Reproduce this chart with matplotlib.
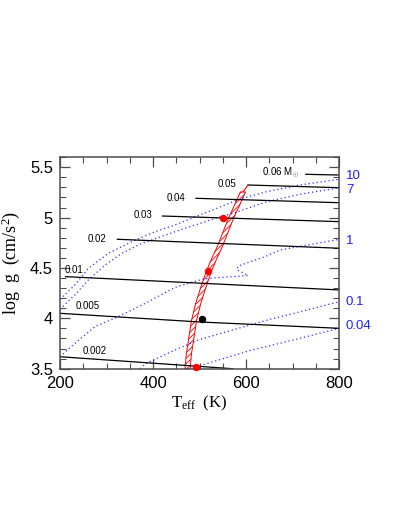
import numpy as np
import matplotlib
matplotlib.use("Agg")
import matplotlib.pyplot as plt
from matplotlib.patches import Polygon
from matplotlib.ticker import MultipleLocator, FixedLocator, FuncFormatter

# mass tracks (M_sun): Teff (K) and log g along each track
mass_names = ['0.002', '0.005', '0.01', '0.02', '0.03', '0.04', '0.05', '0.06 M$_\\odot$']
mass_teff = [[200, 571], [200, 500, 800], [212, 800], [323, 800],
             [420, 800], [492, 800], [604, 800], [728, 800]]
mass_logg = [[3.619, 3.500], [4.050, 3.964, 3.901], [4.414, 4.282], [4.785, 4.696],
             [5.016, 4.960], [5.192, 5.148], [5.324, 5.297], [5.430, 5.423]]

# isochrones (Gyr)
iso_names = ['10', '7', '1', '0.1', '0.04']
iso_teff = [
    [200, 232, 261, 304, 354, 404, 447, 544, 580, 644, 716, 800],
    [200, 232, 261, 297, 333, 376, 447, 544, 572, 644, 716, 800],
    [200, 232, 275, 325, 383, 447, 508, 533, 604, 580, 583, 640, 673, 800],
    [372, 383, 447, 501, 651, 800],
    [492, 608, 701, 800],
]
iso_logg = [
    [4.189, 4.331, 4.497, 4.646, 4.761, 4.860, 4.927, 5.106, 5.175, 5.258, 5.324, 5.381],
    [4.090, 4.232, 4.381, 4.530, 4.646, 4.745, 4.860, 5.009, 5.043, 5.158, 5.232, 5.297],
    [3.619, 3.752, 3.917, 4.016, 4.149, 4.308, 4.391, 4.402, 4.425, 4.483, 4.520, 4.612, 4.679, 4.785],
    [3.500, 3.547, 3.686, 3.792, 3.990, 4.165],
    [3.518, 3.680, 3.785, 3.901],
]

# hatched band (centre line) and its half width in Teff
band_teff = [474, 477, 482, 488, 497, 508, 520, 532, 544, 556, 567, 580, 593]
band_logg = [3.50, 3.65, 3.80, 3.98, 4.15, 4.31, 4.47, 4.60, 4.72, 4.86, 4.99, 5.12, 5.255]
band_dT = 5.5

# measured objects
obj_teff = [551, 519, 506, 492]
obj_logg = [4.994, 4.473, 3.994, 3.518]
obj_color = ['red', 'red', 'black', 'red']

# label placement
mass_label_xy = [(249, 3.679), (234, 4.12), (211, 4.479), (260, 4.792),
                 (359, 5.023), (430, 5.19), (539, 5.329), (634, 5.448)]
iso_label_y = [5.414, 5.275, 4.768, 4.162, 3.924]

plt.rcParams['mathtext.fontset'] = 'custom'
plt.rcParams['mathtext.rm'] = 'Liberation Serif'
plt.rcParams['mathtext.it'] = 'Liberation Serif:italic'
plt.rcParams['hatch.color'] = 'red'
plt.rcParams['hatch.linewidth'] = 0.6

fig = plt.figure(figsize=(3.97, 5.29), dpi=100)
ax = fig.add_axes([0.1511, 0.303, 0.7036, 0.4008])

for T, g in zip(iso_teff, iso_logg):
    ax.plot(T, g, color='#3030ff', lw=0.9, ls=(0, (1, 2.2)))

for T, g in zip(mass_teff, mass_logg):
    ax.plot(T, g, color='black', lw=0.9)

for name, (x, y) in zip(mass_names, mass_label_xy):
    ax.text(x, y, name, fontsize=7, family='Liberation Sans', ha='left', va='center')

# band polygon
bt = np.array(band_teff)
bg = np.array(band_logg)
verts = np.column_stack([np.r_[bt - band_dT, (bt + band_dT)[::-1]], np.r_[bg, bg[::-1]]])
ax.add_patch(Polygon(verts, closed=True, fill=False, edgecolor='red', lw=0.7, hatch='//////'))
ax.plot([band_teff[-1], mass_teff[6][0]], [band_logg[-1], mass_logg[6][0]], color='red', lw=0.8)

for T, g, c in zip(obj_teff, obj_logg, obj_color):
    ax.plot(T, g, 'o', color=c, ms=4.3, mec=c, clip_on=False, zorder=5)

for name, y in zip(iso_names, iso_label_y):
    ax.text(814, y, name, fontsize=9.5, family='Liberation Sans', color='#2020ff',
            ha='left', va='center', clip_on=False)

ax.set_xlim(200, 800)
ax.set_ylim(3.5, 5.605)
ax.xaxis.set_major_locator(FixedLocator([200, 400, 600, 800]))
ax.xaxis.set_minor_locator(MultipleLocator(50))
ax.yaxis.set_major_locator(FixedLocator([3.5, 4, 4.5, 5, 5.5]))
ax.yaxis.set_minor_locator(MultipleLocator(0.1))
ax.yaxis.set_major_formatter(FuncFormatter(lambda v, p: '%g' % v))

ax.tick_params(which='both', direction='in', top=True, right=True, color='0.3')
ax.tick_params(which='major', length=7, width=0.9, labelsize=12, pad=5)
ax.tick_params(which='minor', length=4, width=0.8)
for lab in ax.get_xticklabels() + ax.get_yticklabels():
    lab.set_family('Liberation Sans')
for sp in ax.spines.values():
    sp.set_color('0.3')
    sp.set_linewidth(1.1)

ax.set_xlabel(r'T$_{\rm eff}$  (K)', family='Liberation Serif', fontsize=12, labelpad=2)
ax.set_ylabel(r'log  g  (cm/s$^2$)', family='Liberation Serif', fontsize=13, labelpad=6)

fig.savefig('out.png', dpi=100)
